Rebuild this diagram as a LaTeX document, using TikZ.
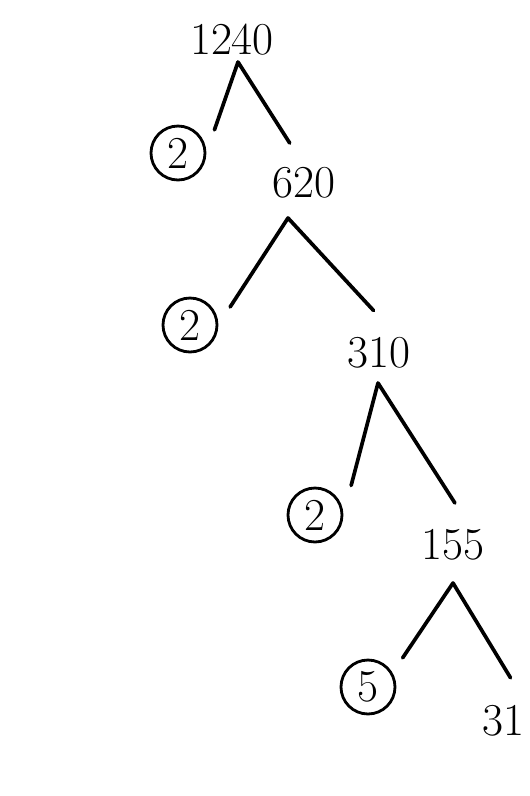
\documentclass[tikz,border=0pt]{standalone}

\begin{document}
\begin{tikzpicture}[x=0.02cm,y=-0.02cm,
    num/.style={inner sep=1pt,font=\fontsize{26}{30}\selectfont},
    prime/.style={num,draw,circle,minimum size=10.8mm,inner sep=0pt,line width=1.6pt},
    branch/.style={line width=2.1pt,line cap=round,line join=round}]
  \useasboundingbox (0,0) rectangle (529,796);
  \node[num] (n1240) at (232,40) {1240};
  \node[prime] (c2a) at (178,153) {2};
  \node[num] (n620) at (304,183) {620};
  \node[prime] (c2b) at (190,325) {2};
  \node[num] (n310) at (379,353) {310};
  \node[prime] (c2c) at (315,515) {2};
  \node[num] (n155) at (453,545) {155};
  \node[prime] (c5) at (368,687) {5};
  \node[num] (n31) at (503,721) {31};
  \coordinate (t1240) at (238,62);
  \coordinate (t620) at (288,218);
  \coordinate (t310) at (378,383);
  \coordinate (t155) at (453,583);
  \draw[branch,shorten <=4.9mm,shorten >=5.3mm] (c2a.east) -- (t1240) -- (n620.north);
  \draw[branch,shorten <=4.3mm,shorten >=6.8mm] (c2b.east) -- (t620) -- (n310.45);
  \draw[branch,shorten <=6.1mm,shorten >=5.8mm] (c2c.east) -- (t310) -- (n155.45);
  \draw[branch,shorten <=3.6mm,shorten >=6mm] (c5.30) -- (t155) -- (n31.north east);
\end{tikzpicture}
\end{document}
